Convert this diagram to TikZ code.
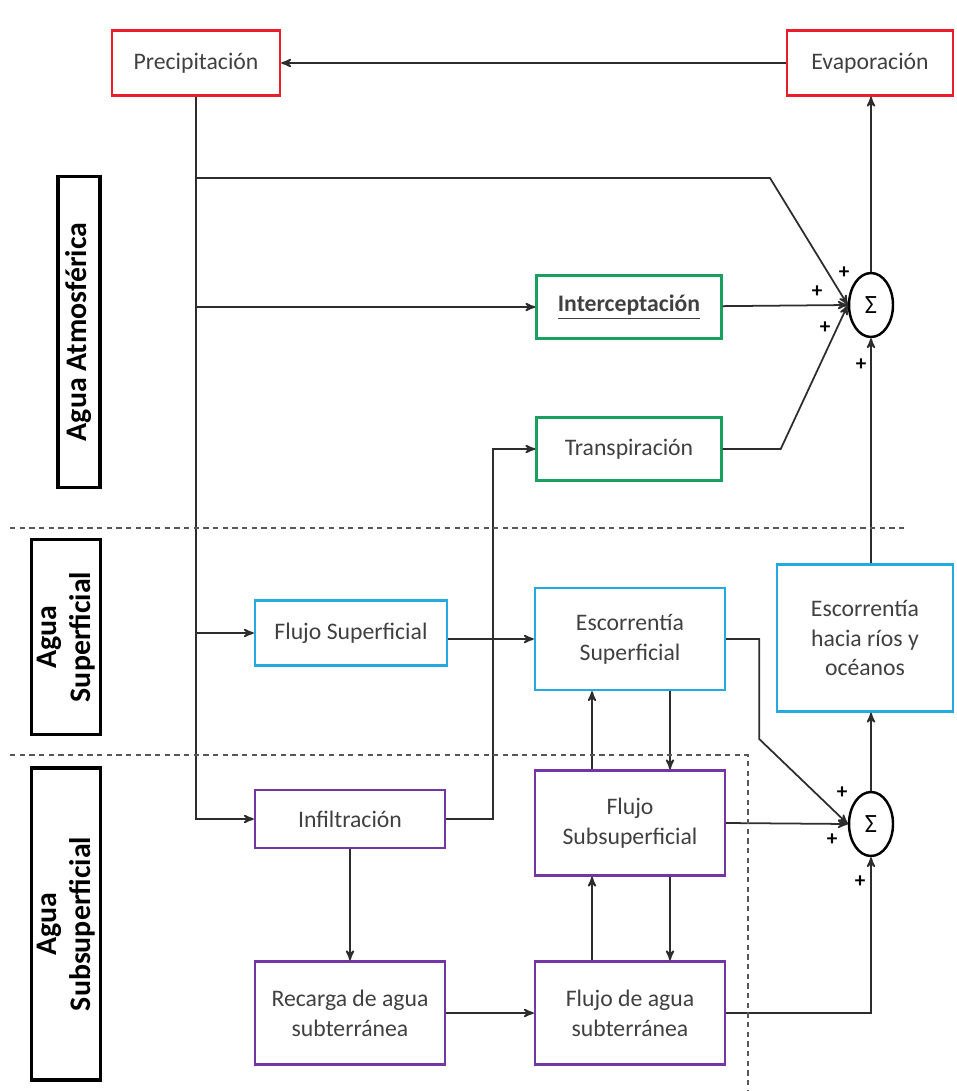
\documentclass[tikz,border=0pt]{standalone}
\usepackage{fontspec}
\setmainfont{Carlito}
\usetikzlibrary{arrows,shapes}
\definecolor{rojo}{RGB}{232,30,45}
\definecolor{verde}{RGB}{25,160,95}
\definecolor{celeste}{RGB}{35,170,225}
\definecolor{morado}{RGB}{115,55,165}
\definecolor{trazo}{RGB}{45,45,45}
\tikzset{
	>=stealth',
	caja/.style={
		rectangle, 
		draw, line width=1.4pt, 
		align=center, 
		inner sep=2pt,
		text=black!75,
		font=\fontsize{13.5}{17}\selectfont},
	cajaroja/.style={caja, draw=rojo},
	cajaverde/.style={caja, draw=verde},
	cajaceleste/.style={caja, draw=celeste},
	cajamorada/.style={caja, draw=morado},
	zona/.style={
		rectangle, 
		draw, line width=2pt, 
		rotate=90, 
		align=center, 
		font=\fontsize{17}{19}\selectfont\bfseries},
	suma/.style={ellipse, draw, line width=1.4pt, inner sep=0pt, 
		minimum width=0.88cm, minimum height=1.28cm, 
		font=\fontsize{15}{18}\selectfont},
	signo/.style={font=\fontsize{12}{12}\selectfont\bfseries, inner sep=0pt},
	flecha/.style={draw=trazo, line width=1pt, ->},
	divisoria/.style={draw=trazo!80, thick, dash pattern=on 3pt off 2.5pt},
}
\begin{document}
\begin{tikzpicture}
	[x=0.02cm, y=-0.02cm]
	\useasboundingbox (0,0) rectangle (956,1091);
	\node[cajaroja, minimum width=3.36cm, minimum height=1.3cm] (precip) at (196,63) {Precipitación};
	\node[cajaroja, minimum width=3.32cm, minimum height=1.3cm] (evap) at (870,63) {Evaporación};
	\node[cajaverde, minimum width=3.7cm, minimum height=1.26cm] (interc) at (629,307) {\underline{\textbf{Interceptación}}};
	\node[cajaverde, minimum width=3.7cm, minimum height=1.26cm] (transp) at (629,449) {Transpiración};
	\node[cajaceleste, minimum width=3.84cm, minimum height=1.3cm] (flujosup) at (351,633) {Flujo Superficial};
	\node[cajaceleste, minimum width=3.8cm, minimum height=2.04cm] (escsup) at (630,639) {Escorrentía\\Superficial};
	\node[cajaceleste, minimum width=3.52cm, minimum height=2.94cm] (escrios) at (865,638) {Escorrentía\\hacia ríos y\\océanos};
	\node[cajamorada, minimum width=3.8cm, minimum height=1.16cm] (infil) at (350,819) {Infiltración};
	\node[cajamorada, minimum width=3.8cm, minimum height=2.1cm] (flujosub) at (630,823) {Flujo\\Subsuperficial};
	\node[cajamorada, minimum width=3.8cm, minimum height=2.06cm] (recarga) at (350,1013) {Recarga de agua\\subterránea};
	\node[cajamorada, minimum width=3.8cm, minimum height=2.06cm] (flujoagua) at (630,1013) {Flujo de agua\\subterránea};
	\node[suma] (sumaA) at (871,305) {Σ};
	\node[suma] (sumaB) at (871,824) {Σ};
	\node[zona, minimum width=6.22cm, minimum height=0.84cm] (atm) at (79,332) {Agua Atmosférica};
	\node[zona, minimum width=3.9cm, minimum height=1.34cm] (sup) at (66,637) {Agua\\Superficial};
	\node[zona, minimum width=6.24cm, minimum height=1.34cm] (subsup) at (66,924) {Agua\\Subsuperficial};
	% signos de la suma
	\node[signo] (mA1) at (844,273) {+};
	\node[signo] (mA2) at (817,292) {+};
	\node[signo] (mA3) at (825,328) {+};
	\node[signo] (mA4) at (861,365) {+};
	\node[signo] (mB1) at (842,793) {+};
	\node[signo] (mB2) at (832,840) {+};
	\node[signo] (mB3) at (860,882) {+};
	\coordinate (r1) at (770,178);
	\draw[flecha] (evap) -- (precip);
	\draw[flecha] (precip) |- (infil);
	\draw[flecha] (precip |- r1) -- (r1) -- (sumaA.west);
	\draw[flecha] (precip |- interc) -- (interc);
	\draw[flecha] (interc) -- (sumaA.west);
	\draw[flecha] (transp.east) -- ++(58,0) -- (sumaA.west);
	\draw[flecha] (sumaA.north) -- (sumaA.north |- evap.south);
	\draw[flecha] (escrios.north -| sumaA) -- (sumaA.south);
	\draw[flecha] (sumaB.north) -- (sumaB.north |- escrios.south);
	\draw[flecha] (precip |- flujosup) -- (flujosup);
	\draw[flecha] (flujosup.east |- escsup.west) -- (escsup.west);
	\draw[flecha] (escsup.east) -- ++(33,0) -- ++(0,100) -- (sumaB.west);
	\draw[flecha] (flujosub.east) -- (sumaB.west);
	\draw[flecha] (flujoagua) -| (sumaB);
	\draw[flecha] (infil) -- (recarga);
	\draw[flecha] (recarga) -- (flujoagua);
	\draw[flecha] (infil.east) -- ++(47,0) |- (transp.west);
	\draw[flecha] ([xshift=-0.76cm]flujosub.north) -- ([xshift=-0.76cm]escsup.south);
	\draw[flecha] ([xshift=0.8cm]escsup.south) -- ([xshift=0.8cm]flujosub.north);
	\draw[flecha] ([xshift=-0.76cm]flujoagua.north) -- ([xshift=-0.76cm]flujosub.south);
	\draw[flecha] ([xshift=0.8cm]flujosub.south) -- ([xshift=0.8cm]flujoagua.north);
	% divisiones
	\draw[divisoria] (10,528) -- (905,528);
	\draw[divisoria] (10,755) -- (748,755) -- (748,1091);
\end{tikzpicture}
\end{document}
